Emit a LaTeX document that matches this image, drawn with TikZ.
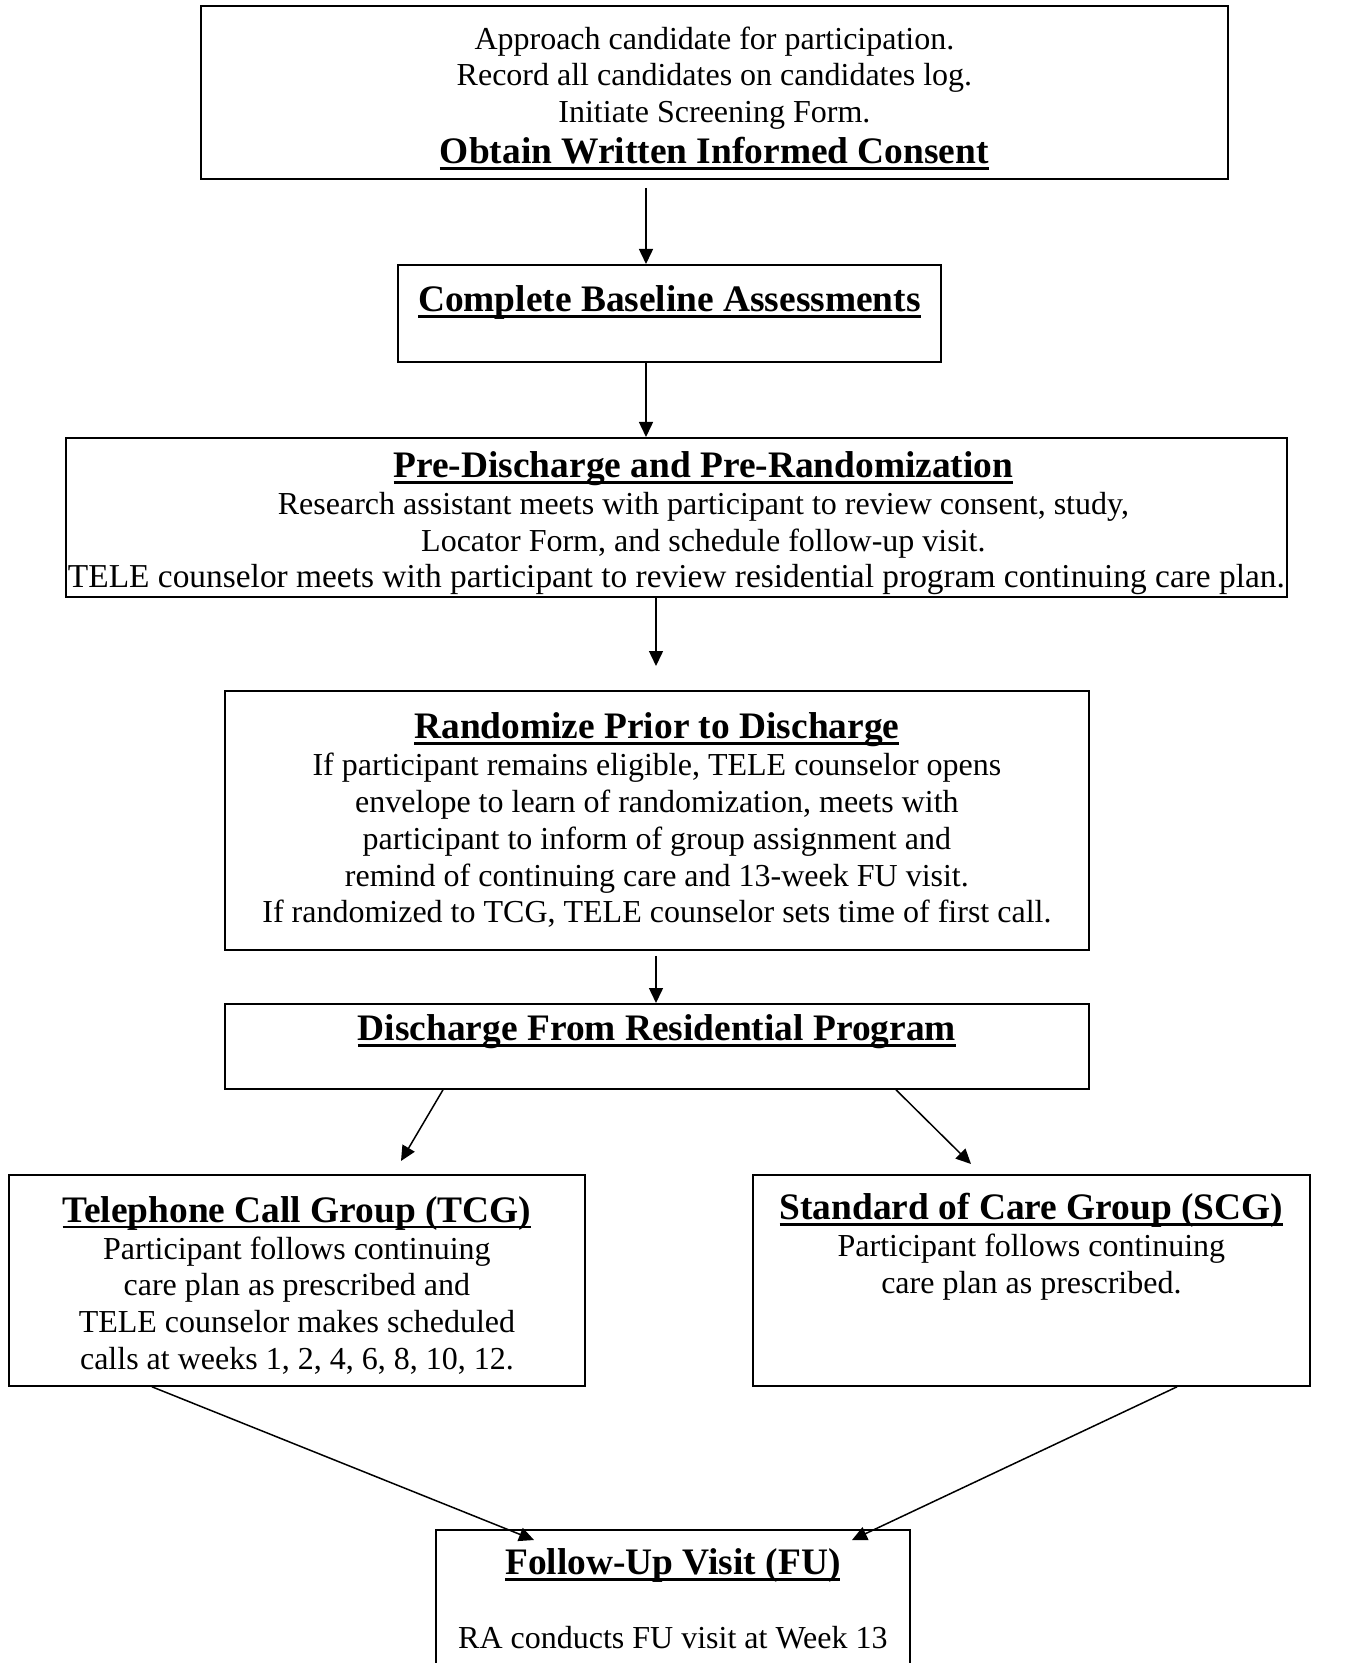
\documentclass[tikz,border=0pt]{standalone}
\usepackage{fontspec}
\setmainfont{Liberation Serif}
\usetikzlibrary{positioning,calc,arrows.meta}

\newsavebox\hdbox
\newcommand{\hdtext}[1]{{\fontsize{18.7}{21}\selectfont\bfseries
  \sbox\hdbox{#1}\rlap{\raisebox{-3pt}{\rule{\wd\hdbox}{1.4pt}}}\usebox\hdbox}}
\newcommand{\lowstrut}[1]{\rule{0pt}{#1}}

\begin{document}
\begin{tikzpicture}
  [x=0.5pt,y=-0.5pt,
   flowNode/.style={draw,line width=0.9pt,anchor=north west,align=center,inner sep=0pt,
     font=\fontsize{16}{18.4}\selectfont},
   flowLink/.style={-{Triangle[length=7.5pt,width=7pt]},line width=0.75pt},
  ]
 \useasboundingbox (0,0) rectangle (1346,1663);

 % boxes
 \node[flowNode,minimum width=513.5pt,minimum height=86.5pt] (consent) at (200,5)
   {\lowstrut{17pt}Approach candidate for participation.\\
    Record all candidates on candidates log.\\
    Initiate Screening Form.\\[2pt]
    \hdtext{Obtain Written Informed Consent}};
 \node[flowNode,minimum width=271.5pt,minimum height=48.5pt] (baseline) at (397,264)
   {\lowstrut{16.8pt}\hdtext{Complete Baseline Assessments}\\ \mbox{}};
 \node[flowNode,minimum width=610.5pt,minimum height=79.5pt] (predis) at (65,437)
   {\lowstrut{19pt}\hspace*{27pt}\hdtext{Pre-Discharge and Pre-Randomization}\\
    \hspace*{27pt}Research assistant meets with participant to review consent, study,\\
    \hspace*{27pt}Locator Form, and schedule follow-up visit.\\
    {\fontsize{16.7}{18.4}\selectfont TELE counselor meets with participant to review residential program continuing care plan.}};
 \node[flowNode,minimum width=432pt,minimum height=129.5pt] (random) at (224,690)
   {\hdtext{Randomize Prior to Discharge}\\
    If participant remains eligible, TELE counselor opens\\
    envelope to learn of randomization, meets with\\
    participant to inform of group assignment and\\
    remind of continuing care and 13-week FU visit.\\
    If randomized to TCG, TELE counselor sets time of first call.};
 \node[flowNode,minimum width=432pt,minimum height=42.5pt] (discharge) at (224,1003)
   {\hdtext{Discharge From Residential Program}\\ \mbox{}};
 \node[flowNode,minimum width=288pt,minimum height=105.5pt] (tcg) at (8,1174)
   {\lowstrut{18pt}\hdtext{Telephone Call Group (TCG)}\\
    Participant follows continuing\\
    care plan as prescribed and\\
    TELE counselor makes scheduled\\
    calls at weeks 1, 2, 4, 6, 8, 10, 12.};
 \node[flowNode,minimum width=278.5pt,minimum height=105.5pt] (scg) at (752,1174)
   {\hdtext{Standard of Care Group (SCG)}\\
    Participant follows continuing\\
    care plan as prescribed.\\ \mbox{}\\ \mbox{}};
 \node[flowNode,draw=none,minimum width=236pt,minimum height=68pt] (fu) at (436,1530)
   {\hdtext{Follow-Up Visit (FU)}\\ \mbox{}\\
    RA conducts FU visit at Week 13};
 \draw[line width=0.9pt] ([yshift=-30pt]fu.south west) -- (fu.north west)
   -- (fu.north east) -- ([yshift=-30pt]fu.south east);

 % arrow positions
 \coordinate (c1) at (646,0);
 \coordinate (c2) at (656,666);
 \coordinate (c3) at (443,0);
 \coordinate (c4) at (401,1161);
 \coordinate (c5) at (896,0);
 \coordinate (c6) at (971,1164);
 \coordinate (c7) at (152,0);
 \coordinate (c8) at (534,1540);
 \coordinate (c9) at (1177,0);
 \coordinate (c10) at (852,1540);

 \draw[flowLink] ([yshift=-4pt]consent.south -| c1) -- (baseline.north -| c1);
 \draw[flowLink] (baseline.south -| c1) -- (predis.north -| c1);
 \draw[flowLink] (predis.south -| c2) -- (c2);
 \draw[flowLink] ([yshift=-2.5pt]random.south -| c2) -- (discharge.north -| c2);
 \draw[flowLink] (discharge.south -| c3) -- (c4);
 \draw[flowLink] (discharge.south -| c5) -- (c6);
 \draw[flowLink] (tcg.south -| c7) -- (c8);
 \draw[flowLink] (scg.south -| c9) -- (c10);
\end{tikzpicture}
\end{document}
